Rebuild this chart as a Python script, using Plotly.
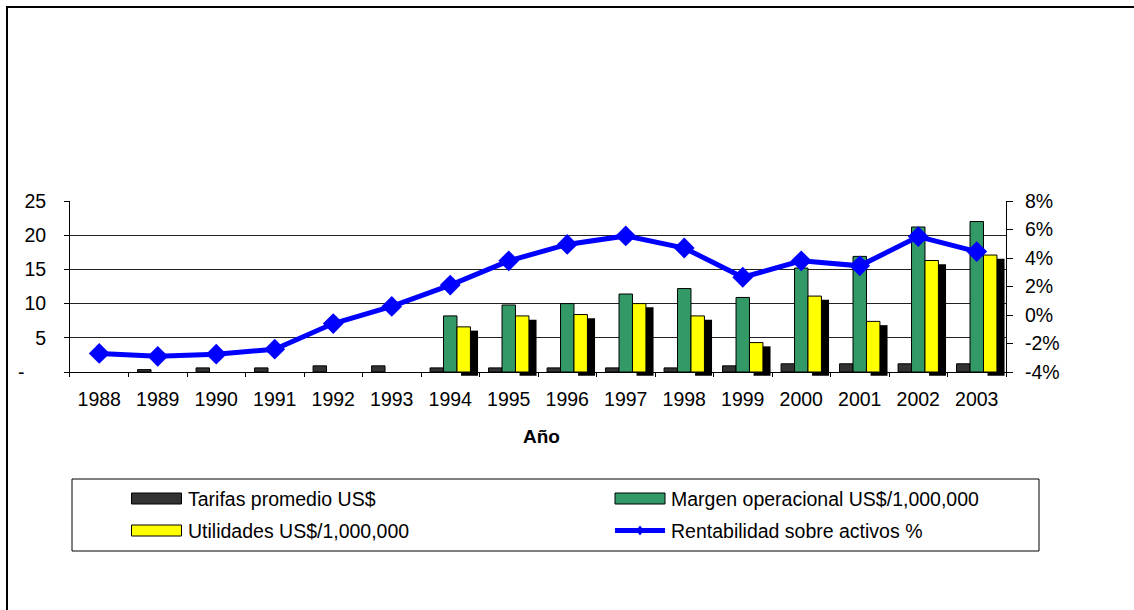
import plotly.graph_objects as go

years = ["1988", "1989", "1990", "1991", "1992", "1993", "1994", "1995",
         "1996", "1997", "1998", "1999", "2000", "2001", "2002", "2003"]
tarifas = [None, 0.35, 0.6, 0.6, 0.9, 0.9, 0.6, 0.6, 0.6, 0.6, 0.6, 0.9, 1.2, 1.2, 1.2, 1.2]
margen = [None, None, None, None, None, None, 8.2, 9.8, 10.0, 11.4, 12.2, 10.9, 15.2, 16.9, 21.2, 22.0]
utilidades = [None, None, None, None, None, None, 6.6, 8.2, 8.4, 10.0, 8.2, 4.3, 11.1, 7.4, 16.3, 17.1]
rentabilidad = [-2.7, -2.9, -2.75, -2.4, -0.6, 0.6, 2.1, 3.8, 4.95, 5.55, 4.7, 2.65, 3.8, 3.45, 5.5, 4.45]

left_ticks = [0, 5, 10, 15, 20, 25]
left_labels = ["-" + "\u00a0" * 4, "5", "10", "15", "20", "25"]
right_ticks = [-4, -2, 0, 2, 4, 6, 8]
right_labels = ["-4%", "-2%", "0%", "2%", "4%", "6%", "8%"]

names = ["Tarifas promedio US$", "Margen operacional US$/1,000,000",
         "Utilidades US$/1,000,000", "Rentabilidad sobre activos %"]

FONT = "Liberation Sans, Arial, sans-serif"
W, H = 1134, 610
L, R, T, B = 70, 1006, 201, 377  # plot area in page pixels


def px(x):
    return (x - L) / (R - L)


def py(y):
    return (B - y) / (B - T)


fig = go.Figure()
bw = 0.23
fig.add_trace(go.Bar(x=years, y=tarifas, name=names[0], width=bw, offset=-0.345,
                     marker=dict(color="#333333", line=dict(color="black", width=1)),
                     showlegend=False))
fig.add_trace(go.Bar(x=years, y=margen, name=names[1], width=bw, offset=-0.115,
                     marker=dict(color="#339966", line=dict(color="black", width=1)),
                     showlegend=False))
fig.add_trace(go.Bar(x=years, y=utilidades, name="sombra", width=0.29, offset=0.185,
                     base=-0.55, marker=dict(color="black", line=dict(width=0)),
                     showlegend=False, hoverinfo="skip"))
fig.add_trace(go.Bar(x=years, y=utilidades, name=names[2], width=bw, offset=0.115,
                     marker=dict(color="#FFFF00", line=dict(color="black", width=1)),
                     showlegend=False))
fig.add_trace(go.Scatter(x=years, y=rentabilidad, name=names[3], yaxis="y2",
                         mode="lines+markers",
                         line=dict(color="#0000FF", width=5),
                         marker=dict(symbol="diamond", size=16, color="#0000FF"),
                         showlegend=False))

axfont = dict(family=FONT, size=19.5, color="black")
fig.update_layout(
    width=W, height=H, autosize=False,
    margin=dict(l=L, r=W - R, t=T, b=H - B, pad=0),
    paper_bgcolor="white", plot_bgcolor="white",
    barmode="overlay",
    font=axfont,
    xaxis=dict(type="category", tickson="boundaries", ticks="inside", ticklen=5,
               tickcolor="black", tickwidth=1, showline=False, showgrid=False,
               tickfont=axfont, ticklabelstandoff=8, range=[-0.5, 15.5]),
    yaxis=dict(range=[-0.731, 25], tickvals=left_ticks, ticktext=left_labels,
               showgrid=True, gridcolor="#222222", gridwidth=1,
               zeroline=True, zerolinecolor="black", zerolinewidth=1,
               showline=True, linecolor="black", linewidth=1,
               ticks="outside", ticklen=5, tickcolor="black",
               tickfont=axfont, ticklabelstandoff=14),
    yaxis2=dict(range=[-4.351, 8], overlaying="y", side="right", tickvals=right_ticks,
                ticktext=right_labels, showgrid=False, zeroline=False,
                showline=True, linecolor="black", linewidth=1,
                ticks="outside", ticklen=6, tickcolor="black",
                tickfont=axfont, ticklabelstandoff=8),
    showlegend=False,
)

shapes = []
# outer frame (left and top edges; right/bottom lie outside the picture)
shapes.append(dict(type="line", xref="paper", yref="paper",
                   x0=px(7), y0=py(H), x1=px(7), y1=py(7),
                   line=dict(color="black", width=2)))
shapes.append(dict(type="line", xref="paper", yref="paper",
                   x0=px(6), y0=py(7), x1=px(W), y1=py(7),
                   line=dict(color="black", width=2)))
# legend box
shapes.append(dict(type="rect", xref="paper", yref="paper",
                   x0=px(72), y0=py(551), x1=px(1039), y1=py(479),
                   line=dict(color="black", width=1), fillcolor="white", layer="below"))
legend_items = [
    (names[0], "#333333", 131.5, 498.5, "bar"),
    (names[1], "#339966", 615, 498.5, "bar"),
    (names[2], "#FFFF00", 131.5, 530.5, "bar"),
    (names[3], "#0000FF", 615, 530.5, "line"),
]
annotations = []
for name, col, x0, yc, kind in legend_items:
    if kind == "bar":
        shapes.append(dict(type="rect", xref="paper", yref="paper",
                           x0=px(x0), x1=px(x0 + 50), y0=py(yc + 5.5), y1=py(yc - 5.5),
                           fillcolor=col, line=dict(color="black", width=1)))
    else:
        shapes.append(dict(type="line", xref="paper", yref="paper",
                           x0=px(x0), x1=px(x0 + 50), y0=py(yc), y1=py(yc),
                           line=dict(color=col, width=5)))
        cx = x0 + 25
        shapes.append(dict(type="path", xref="paper", yref="paper",
                           path="M {} {} L {} {} L {} {} L {} {} Z".format(
                               px(cx - 4), py(yc), px(cx), py(yc - 5),
                               px(cx + 4), py(yc), px(cx), py(yc + 5)),
                           fillcolor=col, line=dict(color=col, width=0)))
    annotations.append(dict(text=name, xref="paper", yref="paper",
                            x=px(x0 + 54), y=py(yc), xanchor="left", yanchor="middle",
                            showarrow=False, font=dict(family=FONT, size=19.5, color="black")))

annotations.append(dict(text="<b>Año</b>", xref="paper", yref="paper",
                        x=px(541), y=py(436), xanchor="center", yanchor="middle",
                        showarrow=False, font=dict(family=FONT, size=19, color="black")))

fig.update_layout(shapes=shapes, annotations=annotations)
fig.write_html("out.html", config={"displayModeBar": False},
               post_script="document.body.style.margin='0';document.body.style.padding='0';"
                           "document.body.style.overflow='hidden';")
